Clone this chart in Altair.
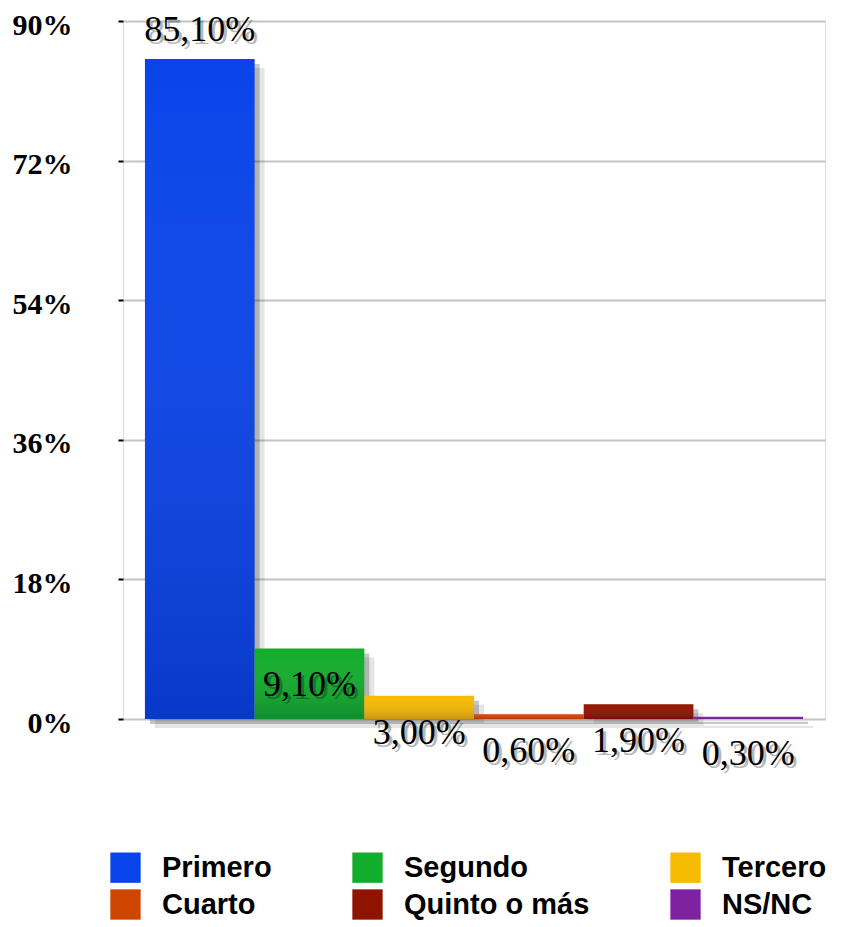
import altair as alt
import pandas as pd

categories = ["Primero", "Segundo", "Tercero", "Cuarto", "Quinto o más", "NS/NC"]
values = [85.1, 9.1, 3.0, 0.6, 1.9, 0.3]
colors = ["#0944ea", "#12ad2a", "#f6ba00", "#cf4600", "#8e1400", "#7e22a0"]
y_ticks = [0, 18, 36, 54, 72, 90]

labels = [f"{v:.2f}".replace(".", ",") + "%" for v in values]
df = pd.DataFrame({"cat": categories, "val": values, "label": labels})

x = alt.X("cat:N", sort=categories,
          scale=alt.Scale(paddingInner=0, paddingOuter=0.2),
          axis=alt.Axis(title=None, labels=False, ticks=False, domain=False))
y = alt.Y("val:Q", scale=alt.Scale(domain=[0, 90], nice=False),
          axis=alt.Axis(title=None, values=y_ticks, labelExpr="datum.value + '%'",
                        labelFont="Liberation Serif", labelFontWeight="bold",
                        labelFontSize=30, labelColor="#000", labelPadding=46,
                        labelOffset=4,
                        tickColor="#000", tickSize=5, tickWidth=2,
                        gridColor="#c4c4c4", gridWidth=2, domain=False))

color = alt.Color("cat:N", sort=categories,
                  scale=alt.Scale(domain=categories, range=colors),
                  legend=alt.Legend(title=None, orient="none", legendX=-13, legendY=831,
                                    direction="horizontal", columns=3,
                                    symbolType="square", symbolSize=920,
                                    symbolStrokeWidth=0, symbolOpacity=1,
                                    labelFont="Liberation Sans", labelFontWeight="bold",
                                    labelFontSize=29, labelColor="#000",
                                    labelOffset=21, labelLimit=400,
                                    columnPadding=80, rowPadding=6))

base = alt.Chart(df)

shadow_far = base.mark_bar(color="#000", opacity=0.10, xOffset=10, yOffset=9).encode(x=x, y=y)
shadow = base.mark_bar(color="#000", opacity=0.22, xOffset=5, yOffset=5).encode(x=x, y=y)

bars = base.mark_bar(opacity=1).encode(x=x, y=y, color=color)

shade = base.mark_bar(
    fill=alt.Gradient(gradient="linear", x1=0, y1=0, x2=0, y2=1,
                      stops=[alt.GradientStop(color="rgba(255,255,255,0.0)", offset=0),
                             alt.GradientStop(color="rgba(0,0,50,0.18)", offset=1)])
).encode(x=x, y=y)

top_lab = base.transform_filter("datum.val > 50")
rest_lab = base.transform_filter("datum.val <= 50")

txt_kw = dict(font="Liberation Serif", fontSize=36, baseline="middle", align="center")

lab_shadow1 = top_lab.mark_text(color="#000", opacity=0.28, dy=-26, dx=3, **txt_kw).encode(x=x, y=y, text="label:N")
lab1 = top_lab.mark_text(color="#000", dy=-29, **txt_kw).encode(x=x, y=y, text="label:N")
lab_shadow2 = rest_lab.mark_text(color="#000", opacity=0.28, dy=40, dx=3, **txt_kw).encode(x=x, y=y, text="label:N")
lab2 = rest_lab.mark_text(color="#000", dy=37, **txt_kw).encode(x=x, y=y, text="label:N")

chart = alt.layer(shadow_far, shadow, bars, shade, lab_shadow1, lab_shadow2, lab1, lab2).properties(
    width=702, height=698,
    padding={"left": 4, "top": 2, "right": 0, "bottom": 0}
).configure_view(stroke="#c4c4c4", strokeWidth=2).configure(background="white")

chart.save("out.html", embed_options={"renderer": "svg", "actions": False})
